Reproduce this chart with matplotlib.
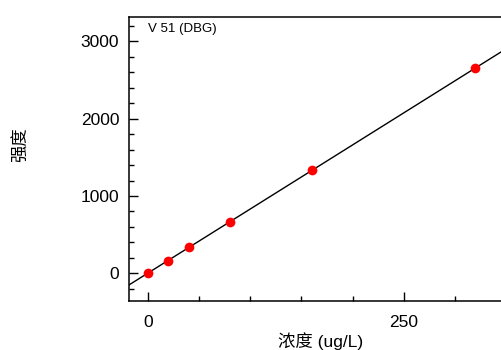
import numpy as np
import matplotlib
matplotlib.use("Agg")
import matplotlib.pyplot as plt
from matplotlib.ticker import MultipleLocator

plt.rcParams['font.family'] = ['Liberation Sans', 'Noto Sans CJK SC', 'DejaVu Sans']

conc = [0, 20, 40, 80, 160, 320]
intensity = [0, 165, 346, 665, 1335, 2648]
label_text = "V 51 (DBG)"
xlabel = "浓度 (ug/L)"
ylabel = "强度"

fig = plt.figure(figsize=(5.02, 3.5), dpi=100)
ax = fig.add_axes([129/502, 49/350, 1 - 129/502, 284/350])

xlim = (-18.5, 346)
ax.set_xlim(*xlim)
ax.set_ylim(-355, 3310)

coef = np.polyfit(conc, intensity, 1)
xs = np.array(xlim)
ax.plot(xs, np.polyval(coef, xs), color='black', lw=1.0, zorder=2)
ax.plot(conc, intensity, 'o', color='#ff0000', ms=7, mec='none', zorder=3)

ax.xaxis.set_major_locator(MultipleLocator(250))
ax.xaxis.set_minor_locator(MultipleLocator(50))
ax.yaxis.set_major_locator(MultipleLocator(1000))
ax.yaxis.set_minor_locator(MultipleLocator(200))
ax.tick_params(which='both', direction='in', width=1, labelsize=12.5)
ax.tick_params(which='major', length=6.5, pad=7)
ax.tick_params(which='minor', length=3.5)
ax.tick_params(axis='x', pad=10)
for s in ax.spines.values():
    s.set_linewidth(1.1)
ax.spines['right'].set_visible(False)

ax.text(0.05, 0.98, label_text, transform=ax.transAxes, fontsize=9.5,
        ha='left', va='top')

fig.text(321/502, 1 - 341/350, xlabel, ha='center', va='center', fontsize=12.5)
fig.text(21/502, 1 - 145/350, ylabel, ha='center', va='center', fontsize=12.5,
         rotation=90)

fig.savefig('out.png', dpi=100)
